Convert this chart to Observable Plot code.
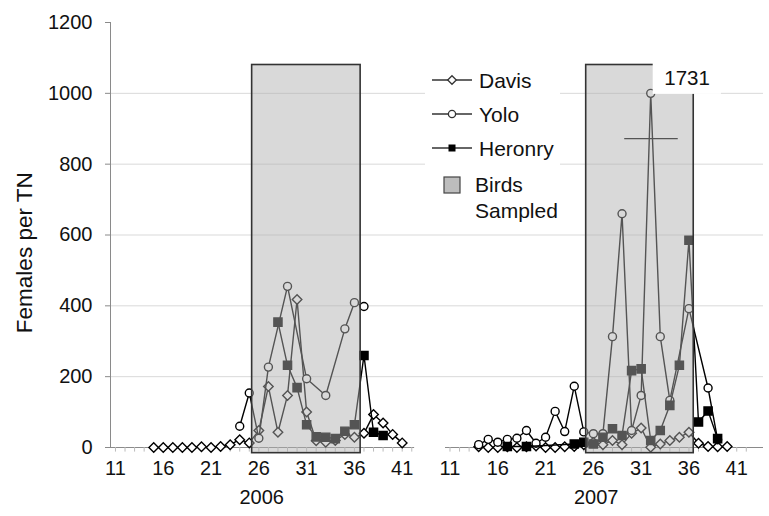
<!DOCTYPE html>
<html>
<head>
<meta charset="utf-8">
<script src="https://cdn.jsdelivr.net/npm/d3@7"></script>
<script src="https://cdn.jsdelivr.net/npm/@observablehq/plot@0.6"></script>
<style>
  html, body { margin: 0; padding: 0; background: white; }
  #wrap { position: relative; width: 769px; height: 516px; font-family: "Liberation Sans", Arial, sans-serif; }
  #legend { position: absolute; left: 425px; top: 62px; }
</style>
</head>
<body>
<div id="wrap"></div>
<script>
// ---- data: [week, females per TN] ----
const davis2006 = [[15,0],[16,0],[17,0],[18,0],[19,0],[20,2],[21,0],[22,3],[23,8],[24,22],[25,13],[26,48],[27,172],[28,43],[29,147],[30,418],[31,100],[32,19],[33,15],[34,20],[35,37],[36,29],[37,40],[38,93],[39,69],[40,37],[41,13]];
const yolo2006 = [[24,60],[25,154],[26,26],[27,227],[29,455],[31,194],[33,147],[35,335],[36,409],[37,398]];
const heronry2006 = [[28,354],[29,232],[30,169],[31,64],[32,30],[33,29],[34,25],[35,46],[36,64],[37,260],[38,43],[39,34]];
const davis2007 = [[14,2],[15,0],[16,0],[17,2],[18,0],[19,2],[20,4],[21,0],[22,0],[23,2],[24,3],[25,8],[26,15],[27,8],[28,20],[29,8],[30,40],[31,55],[32,1],[33,10],[34,20],[35,29],[36,43],[37,12],[38,3],[39,2],[40,3]];
const yolo2007 = [[14,8],[15,23],[16,15],[17,23],[18,26],[19,48],[20,12],[21,29],[22,102],[23,45],[24,173],[25,44],[26,39],[27,39],[28,313],[29,660],[30,48],[31,147],[32,1731],[33,313],[34,133],[36,392],[38,168],[39,22]];
const heronry2007 = [[17,3],[19,3],[24,10],[25,15],[26,10],[27,29],[28,53],[29,34],[30,217],[31,222],[32,20],[33,48],[34,119],[35,232],[36,585],[37,72],[38,103],[39,25]];

const years = [2006, 2007];
const seriesNames = ["Davis", "Yolo", "Heronry"];
const weekTicks = [11, 16, 21, 26, 31, 36, 41];
const yTicks = [0, 200, 400, 600, 800, 1000, 1200];
const gridValues = [200, 400, 600, 800, 1000];
// sampling period (weeks), box top value
const sampledStart = [25.3, 25.25];
const sampledEnd = [36.65, 36.5];
const sampledTop = 1080;
// broken-axis point (Yolo 2007 week 32 = 1731, drawn at 1000)
const capValue = 1000;
const breakMark = {year: 2007, week1: 29.28, week2: 34.88, value: 872};
const yLabel = "Females per TN";

// ---- layout helpers ----
const OFF = 35; // week offset for the 2007 panel on the shared x scale
const X = (year, week) => week + (year === 2007 ? OFF : 0);
const xMin = 10.48, xMax = 78.8;

const rows = [];
const add = (series, year, arr) => arr.forEach(([w, v]) => rows.push({series, year, week: w, value: v, x: X(year, w), y: v > 1200 ? capValue : v}));
add("Davis", 2006, davis2006); add("Yolo", 2006, yolo2006); add("Heronry", 2006, heronry2006);
add("Davis", 2007, davis2007); add("Yolo", 2007, yolo2007); add("Heronry", 2007, heronry2007);

const bySeries = s => rows.filter(d => d.series === s);
const boxes = years.map((y, i) => ({x1: X(y, sampledStart[i]), x2: X(y, sampledEnd[i])}));
const baselines = [{x1: 10.3, x2: 42.3}, {x1: X(2007, 10.53), x2: xMax}];
const minorTicks = [];
for (const y of years) for (let w = 11; w <= 42; w++) minorTicks.push(X(y, w));
const capped = rows.filter(d => d.value > 1200);

const marks = [
  Plot.ruleY(gridValues, {stroke: "#d9d9d9", strokeWidth: 1}),
  Plot.ruleX([xMin], {y1: 0, y2: 1200, stroke: "#8a8a8a"}),
  Plot.ruleY(baselines, {y: () => 0, x1: "x1", x2: "x2", stroke: "#8a8a8a"}),
  Plot.ruleX(minorTicks, {x: d => d, y1: 0, y2: -13, stroke: "#bbbbbb"}),
  Plot.axisY({ticks: yTicks, tickSize: 5, tickPadding: 13, tickFormat: d => String(d), stroke: "#8a8a8a", fill: "#111", fontSize: 20, label: null}),
  Plot.axisX({ticks: years.flatMap(y => weekTicks.map(w => X(y, w))), tickSize: 0, tickPadding: 13,
    tickFormat: d => String(Math.round(d > 43 ? d - OFF : d)), fill: "#111", fontSize: 20, label: null}),
  Plot.text(years, {x: y => X(y, 26.3), y: () => 0, dy: 50, text: d => String(d), fill: "#111", fontSize: 20}),
  Plot.text([yLabel], {frameAnchor: "left", textAnchor: "middle", y: () => 550, dx: -86, rotate: -90, text: d => d, fill: "#111", fontSize: 22.5}),
  Plot.ruleY([breakMark], {x1: d => X(d.year, d.week1), x2: d => X(d.year, d.week2), y: "value", stroke: "black", strokeWidth: 1.3}),
];
const style = {
  Davis: {symbol: "diamond2", r: 4.3, fill: "white"},
  Yolo: {symbol: "circle", r: 4, fill: "white"},
  Heronry: {symbol: "square", r: 4.6, fill: "black"}
};
for (const s of seriesNames) {
  const data = bySeries(s);
  marks.push(Plot.line(data, {x: "x", y: "y", z: "year", stroke: "black", strokeWidth: 1.4}));
  marks.push(Plot.dot(data, {x: "x", y: "y", symbol: () => style[s].symbol, r: style[s].r, fill: style[s].fill, stroke: "black", strokeWidth: 1.4}));
}
marks.push(Plot.rect(boxes, {x1: "x1", x2: "x2", y1: () => -16, y2: () => sampledTop, fill: "#afafaf", fillOpacity: 0.48, stroke: "#333", strokeWidth: 1.6}));
marks.push(Plot.rect(capped, {x1: d => d.x + 0.26, x2: d => d.x + 7.4, y1: () => 997, y2: () => 1100, fill: "white"}));
marks.push(Plot.text(capped, {x: d => d.x + 3.8, y: () => 1042, text: d => String(d.value), fill: "#111", fontSize: 20.5}));

const chart = Plot.plot({
  width: 769, height: 516,
  marginLeft: 110, marginRight: 6, marginTop: 22, marginBottom: 69,
  x: {domain: [xMin, xMax], axis: null},
  y: {domain: [0, 1200], axis: null},
  style: {fontFamily: '"Liberation Sans", Arial, sans-serif', fontSize: "20px", background: "white", overflow: "visible"},
  marks
});
document.getElementById("wrap").appendChild(chart);

// ---- legend ----
const legendItems = [
  {label: "Davis", kind: "diamond", y: 18},
  {label: "Yolo", kind: "circle", y: 52},
  {label: "Heronry", kind: "square", y: 86},
];
const lg = d3.select("#wrap").append("svg").attr("id", "legend")
  .attr("width", 135).attr("height", 163)
  .style("font-family", '"Liberation Sans", Arial, sans-serif').style("font-size", "21px");
lg.append("rect").attr("width", 135).attr("height", 163).attr("fill", "white");
for (const it of legendItems) {
  const g = lg.append("g");
  g.append("line").attr("x1", 7).attr("x2", 47).attr("y1", it.y).attr("y2", it.y).attr("stroke", "#333").attr("stroke-width", 1.4);
  if (it.kind === "diamond") g.append("path").attr("d", `M27,${it.y-4.3}L31.3,${it.y}L27,${it.y+4.3}L22.7,${it.y}Z`).attr("fill", "white").attr("stroke", "#333").attr("stroke-width", 1.3);
  if (it.kind === "circle") g.append("circle").attr("cx", 27).attr("cy", it.y).attr("r", 3.6).attr("fill", "white").attr("stroke", "#333").attr("stroke-width", 1.3);
  if (it.kind === "square") g.append("rect").attr("x", 23.5).attr("y", it.y - 3.5).attr("width", 7).attr("height", 7).attr("fill", "black");
  g.append("text").attr("x", 54).attr("y", it.y).attr("dy", "0.36em").attr("fill", "#111").text(it.label);
}
lg.append("rect").attr("x", 19).attr("y", 115).attr("width", 16).attr("height", 16).attr("fill", "#bdbdbd").attr("stroke", "#444").attr("stroke-width", 1.2);
lg.append("text").attr("x", 50).attr("y", 122).attr("dy", "0.36em").attr("fill", "#111").text("Birds");
lg.append("text").attr("x", 50).attr("y", 148).attr("dy", "0.36em").attr("fill", "#111").text("Sampled");
</script>
</body>
</html>
